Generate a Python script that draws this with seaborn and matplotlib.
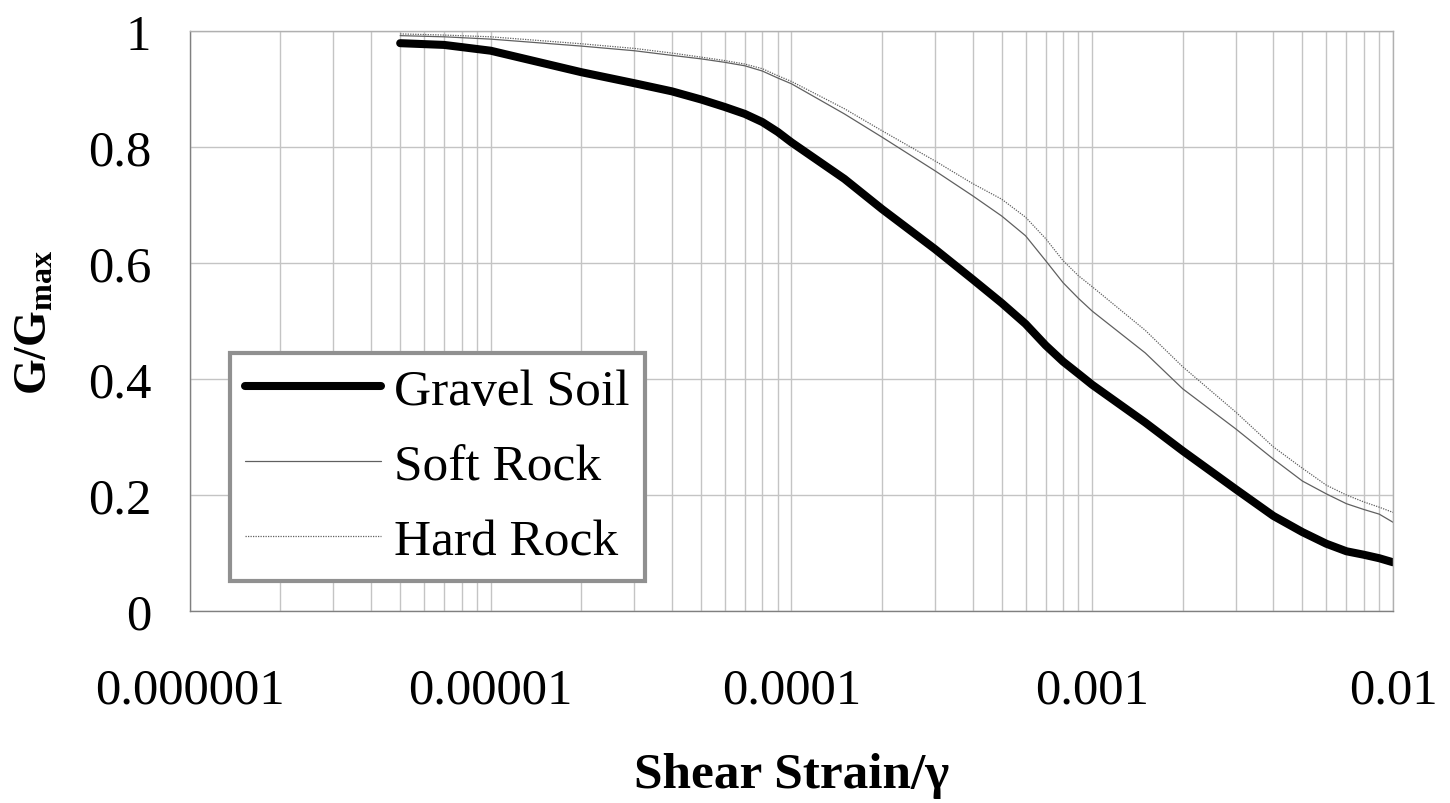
import numpy as np
import pandas as pd
import matplotlib
matplotlib.use("Agg")
import matplotlib.pyplot as plt
import seaborn as sns

strain = [5e-6, 7e-6, 1e-5, 2e-5, 3e-5, 4e-5, 5e-5, 6e-5, 7e-5, 8e-5, 9e-5,
          1e-4, 1.5e-4, 2e-4, 3e-4, 4e-4, 5e-4, 6e-4, 7e-4, 8e-4, 9e-4,
          1e-3, 1.5e-3, 2e-3, 3e-3, 4e-3, 5e-3, 6e-3, 7e-3, 8e-3, 9e-3, 1e-2]
gravel = [0.979, 0.976, 0.966, 0.929, 0.910, 0.896, 0.882, 0.869, 0.857, 0.843, 0.826,
          0.808, 0.745, 0.693, 0.624, 0.572, 0.531, 0.495, 0.458, 0.430, 0.409,
          0.390, 0.325, 0.276, 0.210, 0.164, 0.136, 0.116, 0.103, 0.097, 0.091, 0.084]
soft = [0.992, 0.990, 0.986, 0.974, 0.966, 0.958, 0.952, 0.946, 0.940, 0.931, 0.919,
        0.909, 0.857, 0.817, 0.759, 0.716, 0.681, 0.647, 0.604, 0.566, 0.539,
        0.517, 0.445, 0.383, 0.314, 0.262, 0.224, 0.202, 0.185, 0.175, 0.167, 0.153]
hard = [0.995, 0.993, 0.990, 0.978, 0.970, 0.962, 0.955, 0.949, 0.943, 0.935, 0.923,
        0.913, 0.866, 0.828, 0.776, 0.737, 0.710, 0.679, 0.642, 0.604, 0.578,
        0.559, 0.484, 0.421, 0.343, 0.283, 0.246, 0.217, 0.200, 0.188, 0.179, 0.170]
series_names = ["Gravel Soil", "Soft Rock", "Hard Rock"]
xtick_vals = [1e-6, 1e-5, 1e-4, 1e-3, 1e-2]
xtick_labels = ["0.000001", "0.00001", "0.0001", "0.001", "0.01"]
ytick_vals = [0, 0.2, 0.4, 0.6, 0.8, 1.0]
ytick_labels = ["0", "0.2", "0.4", "0.6", "0.8", "1"]

sns.set_style("white")
plt.rcParams['font.family'] = ['Liberation Serif', 'DejaVu Serif']
plt.rcParams['mathtext.fontset'] = 'custom'
plt.rcParams['mathtext.rm'] = 'Liberation Serif'
plt.rcParams['mathtext.bf'] = 'Liberation Serif:bold'
plt.rcParams['mathtext.it'] = 'Liberation Serif:italic'
plt.rcParams['text.color'] = 'black'
plt.rcParams['axes.labelcolor'] = 'black'
plt.rcParams['xtick.color'] = 'black'
plt.rcParams['ytick.color'] = 'black'

fig = plt.figure(figsize=(14.5, 8.04), dpi=100)
ax = fig.add_axes([0.131, 0.2388, 0.8297, 0.7214])

styles = [
    dict(color="black", linewidth=5.8, linestyle="-", solid_capstyle="round"),
    dict(color="#606060", linewidth=0.9, linestyle="-"),
    dict(color="#606060", linewidth=0.9, linestyle=(0, (1, 1))),
]
for name, vals, st in zip(series_names, [gravel, soft, hard], styles):
    df = pd.DataFrame({"strain": strain, "G": vals})
    sns.lineplot(data=df, x="strain", y="G", ax=ax, label=name, **st)

ax.set_xscale("log")
ax.set_xlim(1e-6, 1e-2)
ax.set_ylim(0, 1)
ax.set_xticks(xtick_vals)
ax.set_xticklabels(xtick_labels)
ax.set_yticks(ytick_vals)
ax.set_yticklabels(ytick_labels)
ax.xaxis.set_minor_locator(matplotlib.ticker.LogLocator(base=10, subs=np.arange(2, 10)))
ax.xaxis.set_minor_formatter(matplotlib.ticker.NullFormatter())
ax.grid(True, which="major", color="#c4c4c4", linewidth=1.0)
ax.grid(True, which="minor", axis="x", color="#c4c4c4", linewidth=1.0)
ax.tick_params(axis="both", which="both", length=0, labelsize=36.5, labelcolor="black")
ax.tick_params(axis="x", pad=40)
ax.tick_params(axis="y", pad=28)
for s in ax.spines.values():
    s.set_color("#b0b0b0")
    s.set_linewidth(1.0)
ax.spines["bottom"].set_color("#808080")
ax.spines["left"].set_color("#808080")

ax.set_xlabel("Shear Strain/γ", fontsize=37, fontweight="bold", va="top", color="black")
ax.xaxis.set_label_coords(0.5, -0.243)
ax.set_ylabel(r"$\mathbf{G/G_{max}}$", fontsize=33, labelpad=22, color="black")

leg = ax.legend(loc="lower left", bbox_to_anchor=(0.033, 0.052), fontsize=37,
                frameon=True, fancybox=False, edgecolor="#909090",
                handlelength=2.65, handletextpad=0.25, borderpad=0.3,
                labelspacing=0.55, borderaxespad=0)
leg.get_frame().set_linewidth(3)
leg.get_frame().set_alpha(1)
for t in leg.get_texts():
    t.set_color("black")

fig.savefig("out.png", dpi=100, facecolor="white")
